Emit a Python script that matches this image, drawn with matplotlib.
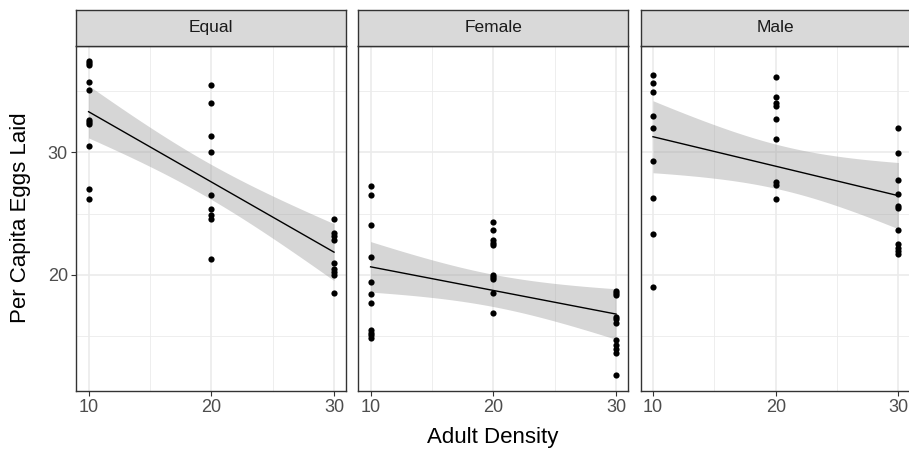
import numpy as np
import matplotlib
matplotlib.use("Agg")
import matplotlib.pyplot as plt

plt.rcParams['font.family'] = ['Liberation Sans', 'DejaVu Sans']

#%% data

panels = ['Equal', 'Female', 'Male']

equal_x = [10]*11 + [20]*9 + [30]*9
equal_y = [37.46, 37.32, 37.19, 35.77, 35.15, 32.66, 32.52, 32.33, 30.57, 26.97, 26.18,
           35.50, 34.07, 31.36, 30.00, 26.50, 25.40, 24.88, 24.53, 21.25,
           24.53, 23.37, 23.12, 22.80, 20.93, 20.46, 20.24, 19.98, 18.49]

female_x = [10]*11 + [20]*10 + [30]*11
female_y = [27.29, 26.54, 24.02, 21.41, 19.38, 18.41, 17.67, 15.45, 15.20, 15.02, 14.80,
            24.28, 23.66, 22.82, 22.60, 22.41, 20.00, 19.81, 19.67, 18.49, 16.86,
            18.67, 18.51, 18.32, 16.56, 16.40, 16.07, 14.61, 14.20, 13.90, 13.61, 11.79]

male_x = [10]*9 + [20]*9 + [30]*11
male_y = [36.34, 35.67, 34.99, 32.98, 31.98, 29.30, 26.29, 23.31, 18.95,
          36.15, 34.53, 34.02, 33.82, 32.72, 31.14, 27.59, 27.32, 26.15,
          31.98, 29.98, 27.78, 26.59, 25.61, 25.42, 23.66, 22.52, 22.17, 21.90, 21.66]

data = {'Equal': (equal_x, equal_y), 'Female': (female_x, female_y), 'Male': (male_x, male_y)}

x_breaks = [10, 20, 30]
x_minor = [15, 25]
y_breaks = [20, 30]
y_minor = [15, 25, 35]


def t975(df):
    # Cornish-Fisher expansion of the t quantile
    z = 1.959964
    g1 = (z**3 + z) / 4
    g2 = (5*z**5 + 16*z**3 + 3*z) / 96
    g3 = (3*z**7 + 19*z**5 + 17*z**3 - 15*z) / 384
    return z + g1/df + g2/df**2 + g3/df**3


def lm_ribbon(x, y, xg):
    x = np.asarray(x, float)
    y = np.asarray(y, float)
    n = len(x)
    b, a = np.polyfit(x, y, 1)
    res = y - (a + b*x)
    s = np.sqrt(np.sum(res**2) / (n - 2))
    sxx = np.sum((x - x.mean())**2)
    fit = a + b*xg
    se = s*np.sqrt(1/n + (xg - x.mean())**2/sxx)
    t = t975(n - 2)
    return fit, fit - t*se, fit + t*se


#%% figure

W, H = 909, 449
fig = plt.figure(figsize=(W/100, H/100), dpi=100)

allx = np.concatenate([data[p][0] for p in panels])
ally = np.concatenate([data[p][1] for p in panels])
xr = allx.max() - allx.min()
yr = ally.max() - ally.min()
xlim = (allx.min() - 0.05*xr, allx.max() + 0.05*xr)
ylim = (ally.min() - 0.05*yr, ally.max() + 0.05*yr)

lefts = [76.3, 358.3, 640.7]
pw = 270.0
top, bot, strip_top = 45.7, 390.5, 10.0
border = '#333333'

for i, p in enumerate(panels):
    ax = fig.add_axes([lefts[i]/W, 1 - bot/H, pw/W, (bot - top)/H])
    x, y = data[p]
    xg = np.linspace(10, 30, 80)
    fit, lo, hi = lm_ribbon(x, y, xg)
    ax.fill_between(xg, lo, hi, color='#999999', alpha=0.4, lw=0, zorder=2)
    ax.plot(xg, fit, color='black', lw=1.0, zorder=3)
    ax.scatter(x, y, s=20, color='black', lw=0, zorder=4)

    for v in x_minor:
        ax.axvline(v, color='#EBEBEB', lw=0.6, zorder=0)
    for v in y_minor:
        ax.axhline(v, color='#EBEBEB', lw=0.6, zorder=0)
    for v in x_breaks:
        ax.axvline(v, color='#EBEBEB', lw=1.2, zorder=0)
    for v in y_breaks:
        ax.axhline(v, color='#EBEBEB', lw=1.2, zorder=0)

    ax.set_xlim(xlim)
    ax.set_ylim(ylim)
    ax.set_xticks(x_breaks)
    ax.set_yticks(y_breaks)
    ax.tick_params(length=3.5, width=0.8, color=border, labelcolor='#4D4D4D',
                   labelsize=13, pad=2.5)
    if i > 0:
        ax.tick_params(axis='y', left=False, labelleft=False)
    for sp in ax.spines.values():
        sp.set_color(border)
        sp.set_linewidth(1.0)

    # strip
    sx = fig.add_axes([lefts[i]/W, 1 - top/H, pw/W, (top - strip_top)/H])
    sx.set_facecolor('#D9D9D9')
    sx.set_xticks([])
    sx.set_yticks([])
    for sp in sx.spines.values():
        sp.set_color(border)
        sp.set_linewidth(1.0)
    sx.text(0.5, 0.5, p, ha='center', va='center', fontsize=12.5, color='#1A1A1A',
            transform=sx.transAxes)

fig.text(493/W, 1 - 437/H, 'Adult Density', ha='center', va='center', fontsize=16)
fig.text(21/W, 1 - (top + bot)/2/H, 'Per Capita Eggs Laid', ha='center', va='center',
         rotation=90, fontsize=16)

fig.savefig('out.png', dpi=100)
